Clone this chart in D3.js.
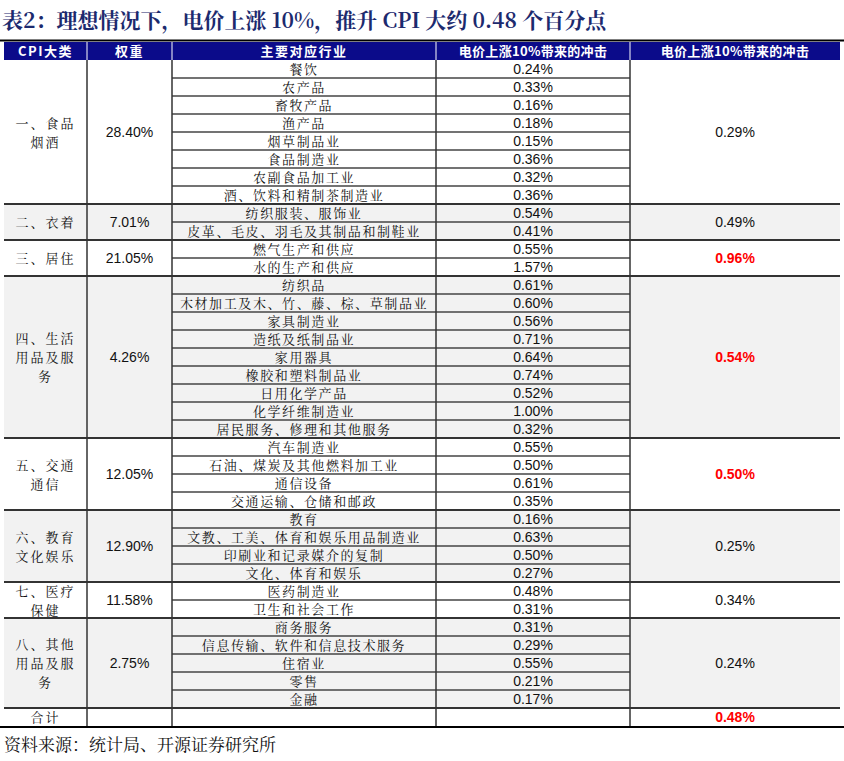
<!DOCTYPE html>
<html><head><meta charset="utf-8">
<script src="https://cdn.jsdelivr.net/npm/d3@7"></script>
<style>body{margin:0;background:#fff}</style>
</head><body>
<svg id="chart" width="844" height="761"></svg>
<script>
const headers = ["CPI大类", "权重", "主要对应行业", "电价上涨10%带来的冲击", "电价上涨10%带来的冲击"];
const groups = ["一、食品\n烟酒", "二、衣着", "三、居住", "四、生活\n用品及服\n务", "五、交通\n通信", "六、教育\n文化娱乐", "七、医疗\n保健", "八、其他\n用品及服\n务"];
const weights = ["28.40%", "7.01%", "21.05%", "4.26%", "12.05%", "12.90%", "11.58%", "2.75%"];
const groupImpact = ["0.29%", "0.49%", "0.96%", "0.54%", "0.50%", "0.25%", "0.34%", "0.24%"];
const impactRed = [false, false, true, true, true, false, false, false];
const industries = [
  ["餐饮", "农产品", "畜牧产品", "渔产品", "烟草制品业", "食品制造业", "农副食品加工业", "酒、饮料和精制茶制造业"],
  ["纺织服装、服饰业", "皮革、毛皮、羽毛及其制品和制鞋业"],
  ["燃气生产和供应", "水的生产和供应"],
  ["纺织品", "木材加工及木、竹、藤、棕、草制品业", "家具制造业", "造纸及纸制品业", "家用器具", "橡胶和塑料制品业", "日用化学产品", "化学纤维制造业", "居民服务、修理和其他服务"],
  ["汽车制造业", "石油、煤炭及其他燃料加工业", "通信设备", "交通运输、仓储和邮政"],
  ["教育", "文教、工美、体育和娱乐用品制造业", "印刷业和记录媒介的复制", "文化、体育和娱乐"],
  ["医药制造业", "卫生和社会工作"],
  ["商务服务", "信息传输、软件和信息技术服务", "住宿业", "零售", "金融"]
];
const industryImpact = [
  ["0.24%", "0.33%", "0.16%", "0.18%", "0.15%", "0.36%", "0.32%", "0.36%"],
  ["0.54%", "0.41%"],
  ["0.55%", "1.57%"],
  ["0.61%", "0.60%", "0.56%", "0.71%", "0.64%", "0.74%", "0.52%", "1.00%", "0.32%"],
  ["0.55%", "0.50%", "0.61%", "0.35%"],
  ["0.16%", "0.63%", "0.50%", "0.27%"],
  ["0.48%", "0.31%"],
  ["0.31%", "0.29%", "0.55%", "0.21%", "0.17%"]
];
const totalLabel = "合计", totalImpact = "0.48%";

const svg = d3.select("#chart");
const colX = [4, 87, 172, 436, 630, 840];
const headerTop = 42, rowH = 18, top0 = 60;
const cjk = "'Noto Serif CJK SC','Noto Sans CJK SC', serif";
const cjkSans = "'Noto Sans CJK SC', sans-serif";
const num = "'Liberation Sans', Arial, sans-serif";
const cx = i => (colX[i] + colX[i + 1]) / 2;

svg.append("text").attr("x", 2).attr("y", 28)
  .attr("font-family", cjk).attr("font-weight", "bold")
  .attr("font-size", 21).attr("fill", "#1c2a6e")
  .text("表2：理想情况下，电价上涨 10%，推升 CPI 大约 0.48 个百分点");
svg.append("line").attr("x1", 0).attr("x2", 844).attr("y1", 40.5).attr("y2", 40.5)
  .attr("stroke", "#000").attr("stroke-width", 2);

// header
svg.append("rect").attr("x", colX[0]).attr("y", headerTop).attr("width", colX[5] - colX[0]).attr("height", top0 - headerTop).attr("fill", "#0b0b8a");
headers.forEach((h, i) => {
  svg.append("text").attr("x", cx(i)).attr("y", headerTop + 14).attr("text-anchor", "middle")
    .attr("font-family", cjkSans).attr("font-weight", "bold").attr("font-size", 13)
    .attr("letter-spacing", i < 3 ? 1.5 : 0.3).attr("fill", "#fff").text(h);
  if (i > 0) svg.append("line").attr("x1", colX[i]).attr("x2", colX[i]).attr("y1", headerTop).attr("y2", top0).attr("stroke", "#fff");
});

let y = top0;
const y0s = [];
groups.forEach((g, gi) => {
  const n = industries[gi].length, h = n * rowH;
  y0s.push(y);
  if (gi % 2 === 1) svg.append("rect").attr("x", colX[0]).attr("y", y).attr("width", colX[5] - colX[0]).attr("height", h).attr("fill", "#f2f2f2");
  const mid = y + h / 2;
  const lines = g.split("\n");
  lines.forEach((t, k) => {
    svg.append("text").attr("x", cx(0)).attr("y", mid + (k - (lines.length - 1) / 2) * 19 + 5)
      .attr("text-anchor", "middle").attr("font-family", cjk).attr("font-size", 13)
      .attr("letter-spacing", 2).attr("fill", "#111").text(t);
  });
  svg.append("text").attr("x", cx(1)).attr("y", mid + 5).attr("text-anchor", "middle")
    .attr("font-family", num).attr("font-size", 14).attr("fill", "#111").text(weights[gi]);
  svg.append("text").attr("x", cx(4)).attr("y", mid + 5).attr("text-anchor", "middle")
    .attr("font-family", num).attr("font-size", 14)
    .attr("font-weight", impactRed[gi] ? "bold" : "normal")
    .attr("fill", impactRed[gi] ? "#ff0000" : "#111").text(groupImpact[gi]);
  industries[gi].forEach((t, r) => {
    const ry = y + r * rowH;
    svg.append("text").attr("x", cx(2)).attr("y", ry + 14).attr("text-anchor", "middle")
      .attr("font-family", cjk).attr("font-size", 13).attr("letter-spacing", 1.6).attr("fill", "#111").text(t);
    svg.append("text").attr("x", cx(3)).attr("y", ry + 14).attr("text-anchor", "middle")
      .attr("font-family", num).attr("font-size", 14).attr("fill", "#111").text(industryImpact[gi][r]);
    if (r > 0) svg.append("line").attr("x1", colX[2]).attr("x2", colX[4]).attr("y1", ry).attr("y2", ry)
      .attr("stroke", "#444").attr("stroke-width", 1.5);
  });
  y += h;
});
const totTop = y;
y0s.push(totTop);
svg.append("text").attr("x", cx(0)).attr("y", totTop + 14).attr("text-anchor", "middle")
  .attr("font-family", cjk).attr("font-size", 13).attr("letter-spacing", 2).attr("fill", "#111").text(totalLabel);
svg.append("text").attr("x", cx(4)).attr("y", totTop + 14).attr("text-anchor", "middle")
  .attr("font-family", num).attr("font-size", 14).attr("font-weight", "bold").attr("fill", "#ff0000").text(totalImpact);
const bottom = totTop + rowH;

// group separators
y0s.slice(1).forEach(yy => svg.append("line").attr("x1", colX[0]).attr("x2", colX[5]).attr("y1", yy).attr("y2", yy)
  .attr("stroke", "#333").attr("stroke-width", 2));
// vertical lines
colX.slice(1, 5).forEach(x => svg.append("line").attr("x1", x).attr("x2", x).attr("y1", top0).attr("y2", bottom)
  .attr("stroke", "#333").attr("stroke-width", 1.5));
svg.append("line").attr("x1", 0).attr("x2", 844).attr("y1", bottom + 1).attr("y2", bottom + 1)
  .attr("stroke", "#000").attr("stroke-width", 2);

svg.append("text").attr("x", 4).attr("y", bottom + 25)
  .attr("font-family", cjk).attr("font-size", 17).attr("fill", "#111")
  .text("资料来源：统计局、开源证券研究所");
</script>
</body></html>
